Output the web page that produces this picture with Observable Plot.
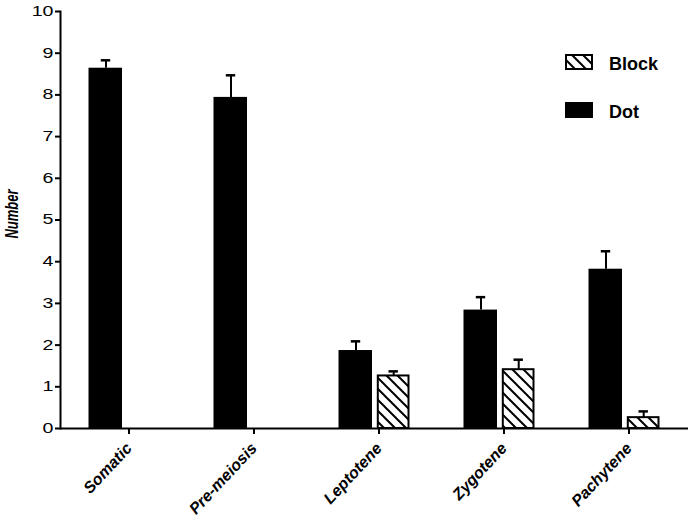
<!DOCTYPE html>
<html><head><meta charset="utf-8">
<script src="https://cdn.jsdelivr.net/npm/d3@7"></script>
<script src="https://cdn.jsdelivr.net/npm/@observablehq/plot@0.6"></script>
<style>body{margin:0;background:#fff} #chart{width:696px;height:522px}</style>
</head><body><div id="chart"></div>
<script>
const categories = ["Somatic", "Pre-meiosis", "Leptotene", "Zygotene", "Pachytene"];
const dotMean  = [8.64, 7.94, 1.87, 2.84, 3.82];
const dotErr   = [0.19, 0.53, 0.22, 0.31, 0.43];
const blockMean = [null, null, 1.26, 1.41, 0.26];
const blockErr  = [null, null, 0.11, 0.24, 0.15];
const yTicks = [0,1,2,3,4,5,6,7,8,9,10];
const seriesNames = ["Block", "Dot"];

const dotRows = categories.map((c, i) => ({cat: c, value: dotMean[i], err: dotErr[i]}));
const blockRows = categories.map((c, i) => ({cat: c, value: blockMean[i], err: blockErr[i]})).filter(d => d.value != null);

const font = "'Liberation Sans', Arial, sans-serif";
const plot = Plot.plot({
  width: 696, height: 522,
  marginLeft: 60, marginRight: 8, marginTop: 11, marginBottom: 94,
  style: {fontFamily: font, background: "white", color: "black", overflow: "visible"},
  x: {domain: categories, padding: 0, label: null},
  y: {domain: [0, 10], label: null},
  marks: [
    Plot.barY(dotRows, {x: "cat", y: "value", fill: "black", insetLeft: 26.5, insetRight: 65}),
    Plot.barY(blockRows, {x: "cat", y: "value", fill: "url(#hatch)", stroke: "black", strokeWidth: 2, insetLeft: 65.8, insetRight: 28.5}),
    Plot.ruleX(dotRows, {x: "cat", y1: "value", y2: d => d.value + d.err, dx: -19, strokeWidth: 2}),
    Plot.tickY(dotRows, {x: "cat", y: d => d.value + d.err, insetLeft: 38.8, insetRight: 76.8, strokeWidth: 2.5}),
    Plot.ruleX(blockRows, {x: "cat", y1: "value", y2: d => d.value + d.err, dx: 18.7, strokeWidth: 2}),
    Plot.tickY(blockRows, {x: "cat", y: d => d.value + d.err, insetLeft: 76.5, insetRight: 39.1, strokeWidth: 2.5}),
    Plot.frame({anchor: "left", strokeWidth: 2}),
    Plot.ruleY([0], {strokeWidth: 2}),
    Plot.axisY({ticks: yTicks, tickSize: 5, tickPadding: 2, fontSize: 14, strokeWidth: 2, label: null}),
    Plot.axisX({tickSize: 6, strokeWidth: 2, tickRotate: -47, textAnchor: "end", tickPadding: 11, dx: 4, fontSize: 16, fontWeight: "bold", fontStyle: "italic", label: null})
  ]
});
document.getElementById("chart").appendChild(plot);

const svg = d3.select(plot);
// the reference image is stretched horizontally; mimic on y tick labels
svg.selectAll("g[aria-label='y-axis tick label'] text").each(function() {
  const t = this.getAttribute("transform") || "";
  this.setAttribute("transform", t + " scale(1.4,1)");
});
svg.selectAll("g[aria-label='x-axis tick label'] text").attr("font-style", "italic");

const defs = svg.insert("defs", ":first-child");
const pat = defs.append("pattern").attr("id", "hatch").attr("patternUnits", "userSpaceOnUse")
  .attr("width", 11).attr("height", 11);
pat.append("rect").attr("width", 11).attr("height", 11).attr("fill", "white");
pat.append("path").attr("d", "M-2,-2 L13,13 M-13,-2 L2,13 M9,-2 L24,13")
  .attr("stroke", "black").attr("stroke-width", 2);

// legend
const leg = svg.append("g").attr("font-family", font).attr("font-weight", "bold").attr("font-size", 18).attr("text-anchor", "start");
const items = [{name: seriesNames[0], fill: "url(#hatch)", y: 55}, {name: seriesNames[1], fill: "black", y: 103}];
items.forEach(it => {
  leg.append("rect").attr("x", 566).attr("y", it.y).attr("width", 26).attr("height", 14)
    .attr("fill", it.fill).attr("stroke", "black").attr("stroke-width", 2);
  leg.append("text").attr("x", 609).attr("y", it.y + 14.5).attr("text-anchor", "start").text(it.name);
});
// y label
svg.append("text").attr("transform", "translate(18,214) scale(1.4,1) rotate(-90)").attr("text-anchor", "middle")
  .attr("font-family", font).attr("font-weight", "bold").attr("font-style", "italic").attr("font-size", 13)
  .text("Number");
</script>
</body></html>
